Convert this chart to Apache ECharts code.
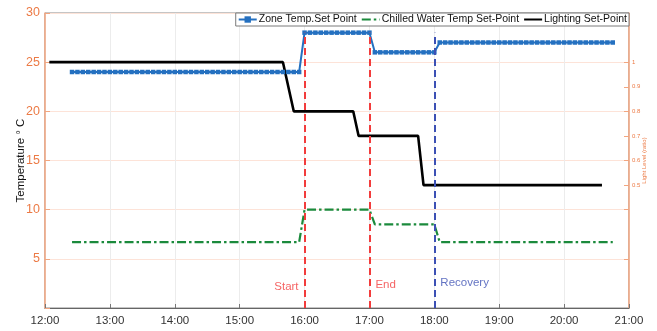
<!DOCTYPE html>
<html>
<head>
<meta charset="utf-8">
<script src="https://cdn.jsdelivr.net/npm/echarts@6/dist/echarts.min.js"></script>
<style>html,body{margin:0;padding:0;background:#fff}#c{width:657px;height:331px}</style>
</head>
<body>
<div id="c"></div>
<script>
// ---- data ----
const seriesNames = ['Zone Temp.Set Point', 'Chilled Water Temp Set-Point', 'Lighting Set-Point'];

const sampleTimes = [
  '12:25','12:30','12:35','12:40','12:45','12:50','12:55',
  '13:00','13:05','13:10','13:15','13:20','13:25','13:30','13:35','13:40','13:45','13:50','13:55',
  '14:00','14:05','14:10','14:15','14:20','14:25','14:30','14:35','14:40','14:45','14:50','14:55',
  '15:00','15:05','15:10','15:15','15:20','15:25','15:30','15:35','15:40','15:45','15:50','15:55',
  '16:00','16:05','16:10','16:15','16:20','16:25','16:30','16:35','16:40','16:45','16:50','16:55',
  '17:00','17:05','17:10','17:15','17:20','17:25','17:30','17:35','17:40','17:45','17:50','17:55',
  '18:00','18:05','18:10','18:15','18:20','18:25','18:30','18:35','18:40','18:45','18:50','18:55',
  '19:00','19:05','19:10','19:15','19:20','19:25','19:30','19:35','19:40','19:45','19:50','19:55',
  '20:00','20:05','20:10','20:15','20:20','20:25','20:30','20:35','20:40','20:45'
];

const zoneTemp = [
  24,24,24,24,24,24,24,
  24,24,24,24,24,24,24,24,24,24,24,24,
  24,24,24,24,24,24,24,24,24,24,24,24,
  24,24,24,24,24,24,24,24,24,24,24,24,
  28,28,28,28,28,28,28,28,28,28,28,28,
  28,26,26,26,26,26,26,26,26,26,26,26,
  26,27,27,27,27,27,27,27,27,27,27,27,
  27,27,27,27,27,27,27,27,27,27,27,27,
  27,27,27,27,27,27,27,27,27,27
];

const chilledTemp = [
  6.7,6.7,6.7,6.7,6.7,6.7,6.7,
  6.7,6.7,6.7,6.7,6.7,6.7,6.7,6.7,6.7,6.7,6.7,6.7,
  6.7,6.7,6.7,6.7,6.7,6.7,6.7,6.7,6.7,6.7,6.7,6.7,
  6.7,6.7,6.7,6.7,6.7,6.7,6.7,6.7,6.7,6.7,6.7,6.7,
  10,10,10,10,10,10,10,10,10,10,10,10,
  10,8.5,8.5,8.5,8.5,8.5,8.5,8.5,8.5,8.5,8.5,8.5,
  8.5,6.7,6.7,6.7,6.7,6.7,6.7,6.7,6.7,6.7,6.7,6.7,
  6.7,6.7,6.7,6.7,6.7,6.7,6.7,6.7,6.7,6.7,6.7,6.7,
  6.7,6.7,6.7,6.7,6.7,6.7,6.7,6.7,6.7,6.7
];

const lightTimes = ['12:04','15:40','15:50','16:45','16:50','17:45','17:50','20:35'];
const lightLevel = [1, 1, 0.8, 0.8, 0.7, 0.7, 0.5, 0.5];

const eventTimes  = ['16:00', '17:00', '18:00'];
const eventLabels = ['Start', 'End', 'Recovery'];
const eventLabelY = [2.2, 2.4, 2.6];
const eventTop = 28;

const tempTicks = [5, 10, 15, 20, 25, 30];
const lightLabelTicks = [0.5, 0.6, 0.7, 0.8, 0.9, 1];
const lightMarkTicks = [0.2, 0.4, 0.5, 0.6, 0.7, 0.8, 0.9, 1];

// ---- styles ----
const FONT = 'Liberation Sans, Arial, sans-serif';
const ORANGE_AX = '#f2a680';
const ORANGE_TX = '#ec7a45';
const eventColors = ['#f23c3c', '#f23c3c', '#3c50b4'];
const eventLabelPos = ['left', 'right', 'right'];

function toH(s) { const p = s.split(':'); return Number(p[0]) + Number(p[1]) / 60; }

const chart = echarts.init(document.getElementById('c'), null, { renderer: 'canvas' });

const hiddenSymbol = { color: 'transparent', borderWidth: 0, opacity: 0 };

const option = {
  animation: false,
  textStyle: { fontFamily: FONT },
  grid: { left: 45, right: 28, top: 13, bottom: 23, show: true, borderColor: '#8a8a8a', borderWidth: 1,
    containLabel: false, outerBoundsMode: 'none' },
  legend: {
    data: [
      { name: seriesNames[0] },
      { name: seriesNames[1], itemStyle: hiddenSymbol },
      { name: seriesNames[2], itemStyle: hiddenSymbol }
    ],
    right: 28, top: 13,
    orient: 'horizontal',
    backgroundColor: '#fff',
    borderColor: '#7a7a7a', borderWidth: 1,
    padding: [1, 2, 1, 2],
    itemGap: 4, itemWidth: 18, itemHeight: 8,
    textStyle: { fontFamily: FONT, fontSize: 10.5, color: '#111', padding: [0, 0, 0, -3] }
  },
  xAxis: {
    type: 'value', min: 12, max: 21, interval: 1,
    axisLine: { show: true, lineStyle: { color: '#666', width: 1 } },
    axisTick: { show: true, inside: true, length: 4, lineStyle: { color: '#777' } },
    axisLabel: { color: '#333', fontSize: 11.5, margin: 7, fontFamily: FONT,
      formatter: v => (v < 10 ? '0' : '') + v + ':00' },
    splitLine: { show: true, lineStyle: { color: '#ececec', width: 1 } }
  },
  yAxis: [
    {
      type: 'value', min: 0, max: 30, interval: 5,
      name: 'Temperature \u00b0 C', nameLocation: 'middle', nameGap: 18, nameRotate: 90, nameMoveOverlap: false,
      nameTextStyle: { color: '#111', fontSize: 11.5, fontFamily: FONT },
      axisLine: { show: true, lineStyle: { color: ORANGE_AX, width: 1.5 } },
      axisTick: { show: true, inside: true, length: 5, lineStyle: { color: ORANGE_AX } },
      axisLabel: { color: ORANGE_TX, fontSize: 12.5, margin: 5, fontFamily: FONT, customValues: tempTicks },
      splitLine: { show: true, lineStyle: { color: '#fde3d8', width: 1 } }
    },
    {
      type: 'value', min: 0, max: 1.2, interval: 0.1, position: 'right',
      name: 'Light Level (ratio)', nameLocation: 'middle', nameGap: 12, nameRotate: 90, nameMoveOverlap: false,
      nameTextStyle: { color: ORANGE_TX, fontSize: 6, fontFamily: FONT },
      axisLine: { show: true, lineStyle: { color: ORANGE_AX, width: 1.5 } },
      axisTick: { show: true, inside: true, length: 5, lineStyle: { color: ORANGE_AX }, customValues: lightMarkTicks },
      axisLabel: { color: ORANGE_TX, fontSize: 6, margin: 3, fontFamily: FONT, customValues: lightLabelTicks,
        formatter: v => (Math.abs(v - 1) < 1e-9 ? '1' : v.toFixed(1)) },
      splitLine: { show: false }
    }
  ],
  series: [
    {
      name: seriesNames[0], type: 'line', yAxisIndex: 0,
      data: sampleTimes.map((t, i) => [toH(t), zoneTemp[i]]),
      symbol: 'rect', symbolSize: 4.5, showSymbol: true,
      itemStyle: { color: '#2470c0' },
      lineStyle: { color: '#2470c0', width: 2 },
      z: 3
    },
    {
      name: seriesNames[1], type: 'line', yAxisIndex: 0,
      data: sampleTimes.map((t, i) => [toH(t), chilledTemp[i]]),
      symbol: 'none', showSymbol: false,
      itemStyle: { color: '#1b8a3c' },
      lineStyle: { color: '#1b8a3c', width: 2.2, type: [9, 3, 2.5, 3] },
      z: 3
    },
    {
      name: seriesNames[2], type: 'line', yAxisIndex: 1,
      data: lightTimes.map((t, i) => [toH(t), lightLevel[i]]),
      symbol: 'none', showSymbol: false,
      itemStyle: { color: '#000' },
      lineStyle: { color: '#000', width: 2.6 },
      z: 3
    },
    {
      name: 'events', type: 'scatter', yAxisIndex: 0,
      symbolSize: 0, silent: true, z: 4,
      data: eventTimes.map((t, i) => ({
        value: [toH(t), eventLabelY[i]],
        label: { show: true, formatter: eventLabels[i], position: eventLabelPos[i], distance: 6,
          color: eventColors[i], fontSize: 11.5, fontFamily: FONT }
      })),
      markLine: {
        silent: true, symbol: ['none', 'none'], label: { show: false },
        data: eventTimes.map((t, i) => [
          { coord: [toH(t), 0], lineStyle: { color: eventColors[i], width: 2, type: [7, 4] } },
          { coord: [toH(t), eventTop] }
        ])
      }
    }
  ]
};
chart.setOption(option);
</script>
</body>
</html>
